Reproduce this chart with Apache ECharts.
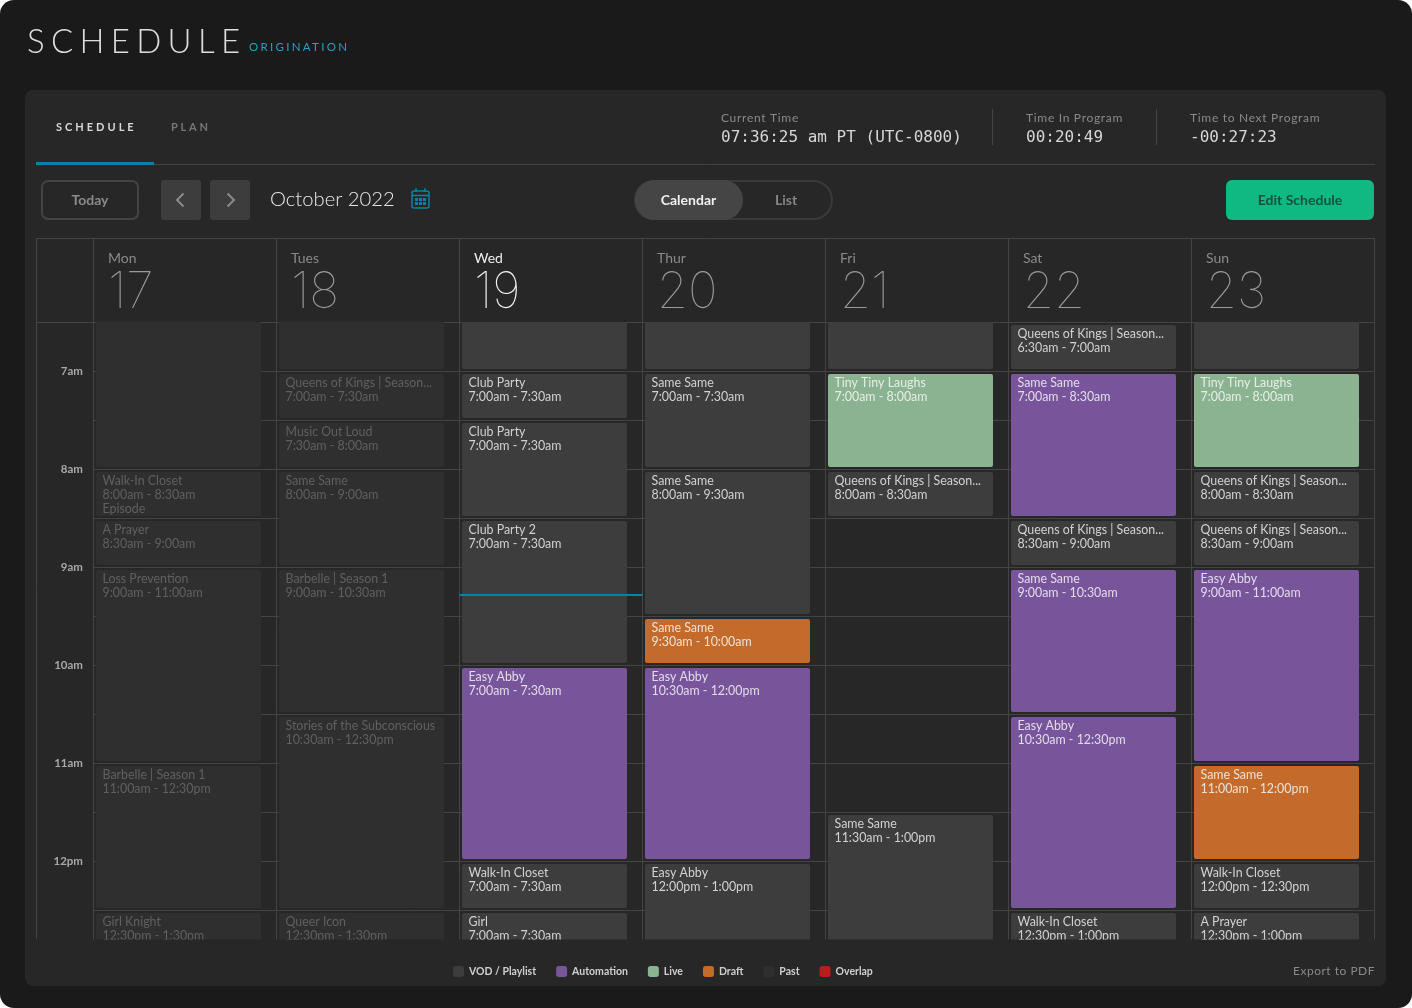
<!DOCTYPE html>
<html>
<head>
<meta charset="utf-8">
<title>Schedule</title>
<script src="https://cdn.jsdelivr.net/npm/echarts@6/dist/echarts.min.js"></script>
<style>
  html, body { margin: 0; padding: 0; background: #ffffff; }
  #main { width: 1412px; height: 1008px; }
</style>
</head>
<body>
<div id="main"></div>
<script>
const dayNames = ['Mon', 'Tues', 'Wed', 'Thur', 'Fri', 'Sat', 'Sun'];
const dayNumbers = ['17', '18', '19', '20', '21', '22', '23'];
const activeDay = 2;
const tickHours = [7, 8, 9, 10, 11, 12];
const tickLabels = ['7am', '8am', '9am', '10am', '11am', '12pm'];
const nowDay = 2;
const nowHour = 9.286;

// start, end, title, time label, kind, extra line
const monEvents = [
  [6, 8, '', '', 'Past'],
  [8, 8.5, 'Walk-In Closet', '8:00am - 8:30am', 'Past', 'Episode'],
  [8.5, 9, 'A Prayer', '8:30am - 9:00am', 'Past'],
  [9, 11, 'Loss Prevention', '9:00am - 11:00am', 'Past'],
  [11, 12.5, 'Barbelle | Season 1', '11:00am - 12:30pm', 'Past'],
  [12.5, 13.5, 'Girl Knight', '12:30pm - 1:30pm', 'Past']
];
const tueEvents = [
  [6, 7, '', '', 'Past'],
  [7, 7.5, 'Queens of Kings | Season...', '7:00am - 7:30am', 'Past'],
  [7.5, 8, 'Music Out Loud', '7:30am - 8:00am', 'Past'],
  [8, 9, 'Same Same', '8:00am - 9:00am', 'Past'],
  [9, 10.5, 'Barbelle | Season 1', '9:00am - 10:30am', 'Past'],
  [10.5, 12.5, 'Stories of the Subconscious', '10:30am - 12:30pm', 'Past'],
  [12.5, 13.5, 'Queer Icon', '12:30pm - 1:30pm', 'Past']
];
const wedEvents = [
  [6, 7, '', '', 'VOD / Playlist'],
  [7, 7.5, 'Club Party', '7:00am - 7:30am', 'VOD / Playlist'],
  [7.5, 8.5, 'Club Party', '7:00am - 7:30am', 'VOD / Playlist'],
  [8.5, 10, 'Club Party 2', '7:00am - 7:30am', 'VOD / Playlist'],
  [10, 12, 'Easy Abby', '7:00am - 7:30am', 'Automation'],
  [12, 12.5, 'Walk-In Closet', '7:00am - 7:30am', 'VOD / Playlist'],
  [12.5, 13.5, 'Girl', '7:00am - 7:30am', 'VOD / Playlist']
];
const thuEvents = [
  [6, 7, '', '', 'VOD / Playlist'],
  [7, 8, 'Same Same', '7:00am - 7:30am', 'VOD / Playlist'],
  [8, 9.5, 'Same Same', '8:00am - 9:30am', 'VOD / Playlist'],
  [9.5, 10, 'Same Same', '9:30am - 10:00am', 'Draft'],
  [10, 12, 'Easy Abby', '10:30am - 12:00pm', 'Automation'],
  [12, 13.5, 'Easy Abby', '12:00pm - 1:00pm', 'VOD / Playlist']
];
const friEvents = [
  [6, 7, '', '', 'VOD / Playlist'],
  [7, 8, 'Tiny Tiny Laughs', '7:00am - 8:00am', 'Live'],
  [8, 8.5, 'Queens of Kings | Season...', '8:00am - 8:30am', 'VOD / Playlist'],
  [11.5, 13.5, 'Same Same', '11:30am - 1:00pm', 'VOD / Playlist']
];
const satEvents = [
  [6.5, 7, 'Queens of Kings | Season...', '6:30am - 7:00am', 'VOD / Playlist'],
  [7, 8.5, 'Same Same', '7:00am - 8:30am', 'Automation'],
  [8.5, 9, 'Queens of Kings | Season...', '8:30am - 9:00am', 'VOD / Playlist'],
  [9, 10.5, 'Same Same', '9:00am - 10:30am', 'Automation'],
  [10.5, 12.5, 'Easy Abby', '10:30am - 12:30pm', 'Automation'],
  [12.5, 13.5, 'Walk-In Closet', '12:30pm - 1:00pm', 'VOD / Playlist']
];
const sunEvents = [
  [6, 7, '', '', 'VOD / Playlist'],
  [7, 8, 'Tiny Tiny Laughs', '7:00am - 8:00am', 'Live'],
  [8, 8.5, 'Queens of Kings | Season...', '8:00am - 8:30am', 'VOD / Playlist'],
  [8.5, 9, 'Queens of Kings | Season...', '8:30am - 9:00am', 'VOD / Playlist'],
  [9, 11, 'Easy Abby', '9:00am - 11:00am', 'Automation'],
  [11, 12, 'Same Same', '11:00am - 12:00pm', 'Draft'],
  [12, 12.5, 'Walk-In Closet', '12:00pm - 12:30pm', 'VOD / Playlist'],
  [12.5, 13.5, 'A Prayer', '12:30pm - 1:00pm', 'VOD / Playlist']
];
const weekEvents = [monEvents, tueEvents, wedEvents, thuEvents, friEvents, satEvents, sunEvents];

const kinds = ['VOD / Playlist', 'Automation', 'Live', 'Draft', 'Past', 'Overlap'];
const kindFill = ['#3d3d3d', '#78559b', '#8bb391', '#c46a2a', '#2f2f2f', '#b81c1c'];
const kindText = ['#d2d2d2', '#e2dbeb', '#e6efe7', '#f2e1d4', '#606060', '#ffffff'];

const BASE = 'Lato, "Noto Sans", sans-serif';
const MONO = '"DejaVu Sans Mono", monospace';
const LINE = '#444444';
const TEAL = '#0a82a6';

// zrender has no letter spacing, so hand it to the canvas for the tracked labels
const tracking = {
  'ORIGINATION': 2.3, 'PLAN': 2.75, 'Current Time': 0.7, 'Time In Program': 0.7,
  'Time to Next Program': 0.7, 'Export to PDF': 0.5
};
const plainFillText = CanvasRenderingContext2D.prototype.fillText;
CanvasRenderingContext2D.prototype.fillText = function (text, x, y, w) {
  let s = tracking[text] || 0;
  if (text === 'SCHEDULE') s = this.font.indexOf('33px') >= 0 ? 6.3 : 3;
  this.letterSpacing = s + 'px';
  if (w === undefined) plainFillText.call(this, text, x, y);
  else plainFillText.call(this, text, x, y, w);
};

function renderEvent(params, api) {
  const c = api.coord([api.value(0), api.value(1)]);
  const e = api.coord([api.value(0), api.value(2)]);
  const band = api.size([1, 0])[0];
  const left = c[0] - band / 2 + 2.5;
  const top = c[1] + 3;
  const k = kinds.indexOf(params.seriesName);
  const row = params.context.rows[params.dataIndex];
  const lines = [row[2], row[3]];
  if (row[4]) lines.push(row[4]);
  return {
    type: 'group',
    children: [
      { type: 'rect', shape: { x: left, y: top, width: band - 18, height: e[1] - 2 - top, r: 2 },
        style: { fill: kindFill[k] } },
      { type: 'text', style: { x: left + 6.5, y: top + 2, text: lines.join('\n'), fill: kindText[k],
        font: '12.4px ' + BASE, lineHeight: 14, verticalAlign: 'top' } }
    ]
  };
}

function renderNow(params, api) {
  const c = api.coord([api.value(0), api.value(1)]);
  const band = api.size([1, 0])[0];
  return { type: 'line', shape: { x1: c[0] - band / 2, y1: c[1], x2: c[0] + band / 2, y2: c[1] },
    style: { stroke: TEAL, lineWidth: 2 } };
}

const kindSeries = kinds.map(function (name, k) {
  const rows = [];
  weekEvents.forEach(function (evs, d) {
    evs.forEach(function (ev) {
      if (ev[4] === name) rows.push([d, ev[0], ev[1], ev[2], ev[3], ev[5] || '']);
    });
  });
  return {
    name: name,
    type: 'custom',
    itemStyle: { color: kindFill[k] },
    clip: true,
    silent: true,
    encode: { x: 0, y: [1, 2] },
    data: rows,
    renderItem: function (params, api) {
      params.context.rows = rows.map(function (r) { return r.slice(1); });
      return renderEvent(params, api);
    }
  };
});

function label(text, x, y, font, fill, extra) {
  return { type: 'text', z: 5, style: Object.assign({ x: x, y: y, text: text, font: font, fill: fill,
    verticalAlign: 'middle', align: 'left' }, extra || {}) };
}
function rule(x1, y1, x2, y2, color, w) {
  return { type: 'line', z: 1, shape: { x1: x1, y1: y1, x2: x2, y2: y2 }, style: { stroke: color || LINE, lineWidth: w || 1 } };
}
function box(x, y, w, h, r, fill, stroke, lw) {
  return { type: 'rect', z: 1, shape: { x: x, y: y, width: w, height: h, r: r },
    style: { fill: fill || 'transparent', stroke: stroke || null, lineWidth: lw || 0 } };
}
function chevron(x, y, dir, color) {
  return { type: 'polyline', z: 2, shape: { points: [[x - 3 * dir, y - 6.5], [x + 3.5 * dir, y], [x - 3 * dir, y + 6.5]] },
    style: { stroke: color, lineWidth: 2, fill: null } };
}

const chrome = [
  { type: 'rect', z: -10, shape: { x: 0, y: 0, width: 1412, height: 1008, r: 14 }, style: { fill: '#1a1a1a' } },
  { type: 'rect', z: -9, shape: { x: 25, y: 90, width: 1361, height: 896, r: 8 }, style: { fill: '#272727' } },

  label('SCHEDULE', 27, 42, '300 33px ' + BASE, '#dedede'),
  label('ORIGINATION', 249, 47.5, '400 11.5px ' + BASE, '#2a9fc4'),

  label('SCHEDULE', 56, 127, '700 11px ' + BASE, '#d8d8d8'),
  label('PLAN', 171, 127, '700 11px ' + BASE, '#777777'),
  rule(36, 164.5, 1375, 164.5),
  box(36, 162, 118, 3, 0, TEAL),

  label('Current Time', 721, 118, '400 12px ' + BASE, '#8a8a8a'),
  label('07:36:25 am PT (UTC-0800)', 721, 138, '400 16px ' + MONO, '#d6d6d6'),
  rule(992.5, 109, 992.5, 145),
  label('Time In Program', 1026, 118, '400 12px ' + BASE, '#8a8a8a'),
  label('00:20:49', 1026, 138, '400 16px ' + MONO, '#d6d6d6'),
  rule(1156.5, 109, 1156.5, 145),
  label('Time to Next Program', 1190, 118, '400 12px ' + BASE, '#8a8a8a'),
  label('-00:27:23', 1190, 138, '400 16px ' + MONO, '#d6d6d6'),

  box(42, 181, 96, 38, 6, null, '#444444', 2),
  label('Today', 90, 200, '700 14px ' + BASE, '#8a8a8a', { align: 'center' }),
  box(161, 180, 40, 40, 3, '#3d3d3d'),
  chevron(180.5, 200, -1, '#8a8a8a'),
  box(210, 180, 40, 40, 3, '#3d3d3d'),
  chevron(230.5, 200, 1, '#8a8a8a'),
  label('October 2022', 270, 199.5, '300 20.2px ' + BASE, '#e8e8e8'),

  // calendar icon
  box(412, 191, 17, 17, 2, null, TEAL, 1.5),
  rule(412, 195.5, 429, 195.5, TEAL, 1.5),
  rule(416, 188, 416, 192, TEAL, 1.5),
  rule(425, 188, 425, 192, TEAL, 1.5),
  box(415, 198, 3, 3, 0, TEAL), box(419, 198, 3, 3, 0, TEAL), box(423, 198, 3, 3, 0, TEAL),
  box(415, 202, 3, 3, 0, TEAL), box(419, 202, 3, 3, 0, TEAL), box(423, 202, 3, 3, 0, TEAL),

  box(635, 181, 197, 38, 19, null, '#3a3a3a', 2),
  box(635, 180, 108, 40, 20, '#454545'),
  label('Calendar', 688.5, 200, '700 14px ' + BASE, '#f0f0f0', { align: 'center' }),
  label('List', 786, 200, '700 14px ' + BASE, '#858585', { align: 'center' }),

  box(1226, 180, 148, 40, 6, '#0fb981'),
  label('Edit Schedule', 1300, 200.5, '700 14px ' + BASE, '#14513c', { align: 'center' }),

  // frame of the day header
  rule(36.5, 238.5, 1374.5, 238.5),
  rule(36.5, 238, 36.5, 939),
  rule(36.5, 322.5, 94, 322.5)
].concat(dayNames.map(function (d, i) {
  return rule(93.5 + 183 * i, 238, 93.5 + 183 * i, 322);
})).concat([
  rule(1374.5, 238, 1374.5, 322),
  label('Export to PDF', 1375, 971, '400 12px ' + BASE, '#8a8a8a', { align: 'right' })
]);

const option = {
  animation: false,
  backgroundColor: 'transparent',
  textStyle: { fontFamily: BASE },
  grid: { left: 93.5, top: 322, width: 1281, height: 617.4, containLabel: false },
  graphic: { elements: chrome },
  legend: {
    left: 453, top: 966,
    padding: 0,
    data: kinds,
    icon: 'roundRect',
    itemWidth: 11, itemHeight: 11, itemGap: 20,
    selectedMode: false,
    textStyle: { color: '#cfcfcf', fontFamily: BASE, fontWeight: 700, fontSize: 10.5 }
  },
  xAxis: {
    type: 'category',
    position: 'top',
    data: dayNames,
    axisLine: { show: true, lineStyle: { color: LINE } },
    axisTick: { show: false },
    splitLine: { show: true, lineStyle: { color: LINE } },
    axisLabel: {
      interval: 0,
      margin: 4,
      width: 154,
      align: 'center',
      verticalAlign: 'bottom',
      formatter: function (v, i) {
        const s = i === activeDay ? 'a' : '';
        return '{d' + s + '|' + v + '}\n{n' + s + '|' + dayNumbers[i] + '}';
      },
      rich: {
        d: { fontFamily: BASE, fontSize: 14, color: '#8a8a8a', align: 'left', lineHeight: 18 },
        n: { fontFamily: 'Inter', fontSize: 50, fontWeight: 100, color: '#9a9a9a', align: 'left', lineHeight: 51 },
        da: { fontFamily: BASE, fontSize: 14, color: '#eeeeee', align: 'left', lineHeight: 18 },
        na: { fontFamily: 'Inter', fontSize: 50, fontWeight: 100, color: '#f2f2f2', align: 'left', lineHeight: 51 }
      }
    }
  },
  yAxis: {
    type: 'value',
    inverse: true,
    min: 6.5,
    max: 12.8,
    interval: 0.5,
    axisLine: { show: false },
    axisTick: { show: false },
    splitLine: { show: true, showMaxLine: false, lineStyle: { color: LINE } },
    axisLabel: {
      margin: 10.5,
      color: '#a8a8a8',
      fontFamily: BASE,
      fontWeight: 700,
      fontSize: 11.5,
      showMinLabel: false,
      showMaxLabel: false,
      formatter: function (v) {
        const i = tickHours.indexOf(v);
        return i < 0 ? '' : tickLabels[i];
      }
    }
  },
  series: kindSeries.concat([{
    name: 'Now',
    type: 'custom',
    z: 6,
    silent: true,
    clip: true,
    encode: { x: 0, y: 1 },
    data: [[nowDay, nowHour]],
    renderItem: renderNow
  }])
};

const chart = echarts.init(document.getElementById('main'));
chart.setOption(option);
</script>
</body>
</html>
